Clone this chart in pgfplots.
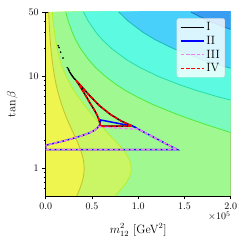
\documentclass[border=0pt]{standalone}
\usepackage{pgfplots}
\pgfplotsset{compat=1.18}
\definecolor{rA}{RGB}{238,245,78}
\definecolor{rB}{RGB}{202,245,100}
\definecolor{rC}{RGB}{160,248,145}
\definecolor{rD}{RGB}{122,250,190}
\definecolor{rE}{RGB}{92,250,225}
\definecolor{rF}{RGB}{72,207,250}
\definecolor{rG}{RGB}{57,157,242}
\definecolor{lA}{RGB}{195,195,40}
\definecolor{lB}{RGB}{185,240,40}
\definecolor{lC}{RGB}{80,235,60}
\definecolor{lD}{RGB}{40,222,165}
\definecolor{lE}{RGB}{30,185,185}
\definecolor{lF}{RGB}{30,120,190}
\definecolor{myviolet}{RGB}{238,130,238}
\begin{document}
\begin{tikzpicture}
\path[use as bounding box] (-45.7pt,-47pt) rectangle (201.3pt,196pt);
\begin{axis}[
  at={(0,0)}, anchor=south west, scale only axis,
  width=185pt, height=184pt, clip mode=individual,
  xmin=0, xmax=2, ymode=log, ymin=0.5, ymax=50,
  xtick={0,0.5,1,1.5,2}, xticklabels={0.0,0.5,1.0,1.5,2.0},
  ytick={1,10,50}, yticklabels={1,10,50},
  minor ytick={0.6,0.7,0.8,0.9,2,3,4,5,6,7,8,9,20,30,40},
  tick align=outside, xtick pos=bottom, ytick pos=left,
  major tick length=3.5pt, minor tick length=2pt,
  every tick/.style={black, line width=0.6pt},
  tick label style={font=\fontsize{10}{12}\selectfont},
  xlabel={$m_{12}^2$ [GeV$^2$]}, ylabel={$\tan\beta$},
  label style={font=\fontsize{12}{14}\selectfont},
  xlabel style={at={(axis description cs:0.5,-0.185)}, anchor=center},
  ylabel style={at={(axis description cs:-0.18,0.5)}, anchor=center},
  axis background/.style={fill=rA},
  axis line style={black, line width=0.6pt},
  legend style={at={(rel axis cs:0.969,0.966)}, anchor=north east,
    fill=white, fill opacity=0.8, text opacity=1, draw=black!15,
    rounded corners=2pt, font=\fontsize{12}{14}\selectfont,
    inner xsep=3pt, inner ysep=2pt},
  legend cell align=left,
  legend image code/.code={\draw[#1, line width=1.5pt] (0pt,0pt) -- (23pt,0pt);},
]
% filled contour regions
\addplot[fill=rB, draw=none, forget plot] coordinates {
(0.336,0.5) (0.369,0.6) (0.392,0.7) (0.406,0.8) (0.414,0.9) (0.416,1.0) (0.412,1.15) (0.403,1.3) (0.385,1.5) (0.361,1.75) (0.336,2) (0.292,2.5) (0.256,3) (0.227,3.5) (0.204,4) (0.170,5) (0.146,6) (0.128,7) (0.114,8) (0.095,10) (0.080,12.5) (0.069,15) (0.056,20) (0.048,25) (0.043,30) (0.036,40) (0.032,50)
(2.5,60) (2.5,0.4) };
\addplot[fill=rC, draw=none, forget plot] coordinates {
(0.748,0.5) (0.821,0.6) (0.872,0.7) (0.904,0.8) (0.921,0.9) (0.926,1.0) (0.917,1.15) (0.896,1.3) (0.857,1.5) (0.802,1.75) (0.748,2) (0.655,2.5) (0.590,3) (0.535,3.5) (0.485,4) (0.410,5) (0.350,6) (0.305,7) (0.270,8) (0.222,10) (0.180,12.5) (0.155,15) (0.124,20) (0.107,25) (0.095,30) (0.080,40) (0.071,50)
(2.5,60) (2.5,0.4) };
\addplot[fill=rD, draw=none, forget plot] coordinates {
(2.434,1.75) (2.268,2) (1.970,2.5) (1.728,3) (1.535,3.5) (1.379,4) (1.146,5) (0.984,6) (0.864,7) (0.773,8) (0.643,10) (0.537,12.5) (0.467,15) (0.377,20) (0.323,25) (0.288,30) (0.243,40) (0.216,50)
(2.5,60) (2.5,1.75) };
\addplot[fill=rE, draw=none, forget plot] coordinates {
(2.604,4) (2.165,5) (1.858,6) (1.632,7) (1.460,8) (1.214,10) (1.015,12.5) (0.881,15) (0.713,20) (0.611,25) (0.544,30) (0.459,40) (0.408,50)
(2.7,60) (2.7,4) };
\addplot[fill=rF, draw=none, forget plot] coordinates {
(2.826,8) (2.350,10) (1.965,12.5) (1.706,15) (1.381,20) (1.183,25) (1.053,30) (0.889,40) (0.790,50)
(2.9,60) (2.9,8) };
\addplot[fill=rG, draw=none, forget plot] coordinates {
(2.351,25) (2.237,27) (2.092,30) (1.906,35) (1.766,40) (1.657,45) (1.570,50)
(2.5,60) (2.5,25) };
% contour lines
\addplot[lA, line width=0.8pt, forget plot] coordinates {
(0.336,0.5) (0.369,0.6) (0.392,0.7) (0.406,0.8) (0.414,0.9) (0.416,1.0) (0.412,1.15) (0.403,1.3) (0.385,1.5) (0.361,1.75) (0.336,2) (0.292,2.5) (0.256,3) (0.227,3.5) (0.204,4) (0.170,5) (0.146,6) (0.128,7) (0.114,8) (0.095,10) (0.080,12.5) (0.069,15) (0.056,20) (0.048,25) (0.043,30) (0.036,40) (0.032,50) };
\addplot[lB, line width=0.8pt, forget plot] coordinates {
(0.748,0.5) (0.821,0.6) (0.872,0.7) (0.904,0.8) (0.921,0.9) (0.926,1.0) (0.917,1.15) (0.896,1.3) (0.857,1.5) (0.802,1.75) (0.748,2) (0.655,2.5) (0.590,3) (0.535,3.5) (0.485,4) (0.410,5) (0.350,6) (0.305,7) (0.270,8) (0.222,10) (0.180,12.5) (0.155,15) (0.124,20) (0.107,25) (0.095,30) (0.080,40) (0.071,50) };
\addplot[lC, line width=0.8pt, forget plot] coordinates {
(2.434,1.75) (2.268,2) (1.970,2.5) (1.728,3) (1.535,3.5) (1.379,4) (1.146,5) (0.984,6) (0.864,7) (0.773,8) (0.643,10) (0.537,12.5) (0.467,15) (0.377,20) (0.323,25) (0.288,30) (0.243,40) (0.216,50) };
\addplot[lD, line width=0.8pt, forget plot] coordinates {
(2.604,4) (2.165,5) (1.858,6) (1.632,7) (1.460,8) (1.214,10) (1.015,12.5) (0.881,15) (0.713,20) (0.611,25) (0.544,30) (0.459,40) (0.408,50) };
\addplot[lE, line width=0.8pt, forget plot] coordinates {
(2.826,8) (2.350,10) (1.965,12.5) (1.706,15) (1.381,20) (1.183,25) (1.053,30) (0.889,40) (0.790,50) };
\addplot[lF, line width=0.8pt, forget plot] coordinates {
(2.351,25) (2.237,27) (2.092,30) (1.906,35) (1.766,40) (1.657,45) (1.570,50) };
% regions
\addplot[black, line width=1.5pt] coordinates {
(0.33,9.0) (0.40,7.5) (0.48,6.1) (0.58,4.8) (0.70,3.85) (0.82,3.25) (0.94,2.87) (0.59,2.87) (0.585,3.1) (0.575,3.4) (0.555,3.8) (0.52,4.4) (0.48,5.1) (0.44,6.0) (0.40,7.0) (0.36,8.1) (0.33,9.0) };
\addlegendentry{I}
\addplot[blue, line width=1.5pt] coordinates {
(0,1.6) (1.42,1.6) (0.94,2.87) (0.595,3.35) (0.585,3.0) (0.575,2.87) (0.555,2.72) (0.52,2.56) (0.47,2.42) (0.4,2.28) (0.3,2.12) (0.2,1.99) (0.1,1.88) (0,1.78) (0,1.6) };
\addlegendentry{II}
\addplot[myviolet, line width=1.5pt, dash pattern=on 3.7pt off 1.6pt] coordinates {
(0,1.6) (1.42,1.6) (1.0,2.67) (0.8,2.73) (0.6,2.82) (0.575,2.85) (0.555,2.72) (0.52,2.56) (0.47,2.42) (0.4,2.28) (0.3,2.12) (0.2,1.99) (0.1,1.88) (0,1.78) (0,1.6) };
\addlegendentry{III}
\addplot[red, line width=1.5pt, dash pattern=on 3.7pt off 1.6pt] coordinates {
(0.33,9.0) (0.40,7.5) (0.48,6.1) (0.58,4.8) (0.70,3.85) (0.82,3.25) (0.94,2.87) (0.59,2.87) (0.585,3.1) (0.575,3.4) (0.555,3.8) (0.52,4.4) (0.48,5.1) (0.44,6.0) (0.40,7.0) (0.36,8.1) (0.33,9.0) };
\addlegendentry{IV}
\addplot[only marks, mark=*, mark size=0.6pt, black, forget plot] coordinates {
(0.135,21.5) (0.144,20.5) (0.162,18.3) (0.187,15.8) (0.234,12.4) (0.244,12.0) (0.25,11.7) (0.255,11.4) (0.262,11.0) (0.270,10.7) (0.277,10.45) (0.284,10.2) (0.29,10.0) (0.298,9.77) (0.306,9.55) (0.314,9.35) (0.322,9.2) };
\node[anchor=north east, font=\fontsize{10}{12}\selectfont, inner sep=0pt] at (rel axis cs:1,0) [yshift=-15.5pt] {$\times10^{5}$};
\end{axis}
\end{tikzpicture}
\end{document}
